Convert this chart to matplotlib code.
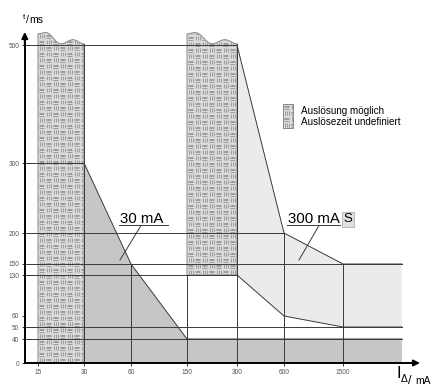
import numpy as np
import matplotlib
matplotlib.use("Agg")
import matplotlib.pyplot as plt
from matplotlib.patches import Polygon, Rectangle
from matplotlib.collections import LineCollection
from matplotlib.lines import Line2D
from matplotlib.transforms import IdentityTransform

plt.rcParams['font.family'] = ['Liberation Sans', 'DejaVu Sans']

# tick values on both axes
x_ticks = [15, 30, 60, 150, 300, 600, 1500]
y_ticks = [0, 40, 50, 60, 130, 150, 200, 300, 500]

# 30 mA RCD: maximum trip time
i_30 = [30, 60, 150, 3750]
t_30 = [300, 150, 40, 40]

# 300 mA selective RCD: max / min trip time
i_300 = [300, 600, 1500, 3750]
t_300_max = [500, 200, 150, 150]
t_300_min = [130, 60, 50, 50]

# zones where tripping is possible, time undefined: (I from, I to, t from)
zones = [(15, 30, 0), (150, 300, 130)]

# reference lines: time -> current where the line ends, current -> time
h_lines = {500: 300, 300: 30, 200: 600, 150: 3750, 130: 300, 50: 3750, 40: 3750}
v_lines = {60: 150, 600: 200, 1500: 150}

# axis layout (value -> pixel) of the non uniform axes in the drawing
X_V = [8.47, 15, 30, 60, 150, 300, 600, 1500, 5990]
X_P = [0, 38, 84, 131, 187, 237, 284, 343, 432]
Y_V = [-40, 0, 40, 50, 60, 130, 150, 200, 300, 500, 576]
Y_P = [0, 24, 48, 60, 71, 112, 123, 154, 224, 342, 387]
X0 = 12.3

W, H = 432, 387
fig = plt.figure(figsize=(W / 100, H / 100), dpi=100)
ax = fig.add_axes([0, 0, 1, 1])

lx = np.log10(X_V)
ax.set_xscale('function', functions=(
    lambda v: np.interp(np.log10(np.maximum(np.asarray(v, float), 1e-6)), lx, X_P),
    lambda p: 10 ** np.interp(p, X_P, lx)))
ax.set_yscale('function', functions=(
    lambda v: np.interp(v, Y_V, Y_P),
    lambda p: np.interp(p, Y_P, Y_V)))
ax.set_xlim(X_V[0], X_V[-1])
ax.set_ylim(Y_V[0], Y_V[-1])

LINE = '#3a3a3a'

# shaded regions
ax.add_patch(Polygon(list(zip(i_30, t_30)) + [(i_30[-1], 0), (i_30[0], 0)],
                     closed=True, facecolor='#c6c6c6', edgecolor='none', zorder=1))
ax.add_patch(Polygon(list(zip(i_300, t_300_max)) + list(zip(i_300[::-1], t_300_min[::-1])),
                     closed=True, facecolor='#ebebeb', edgecolor='none', zorder=1))

# reference lines
for t, i_end in h_lines.items():
    ax.plot([X0, i_end], [t, t], color=LINE, lw=0.7, zorder=5)
for i, t_top in v_lines.items():
    ax.plot([i, i], [0, t_top], color=LINE, lw=0.7, zorder=2)
ax.plot(i_30, t_30, color=LINE, lw=0.7, zorder=2)
ax.plot(i_300, t_300_max, color=LINE, lw=0.7, zorder=2)
ax.plot(i_300, t_300_min, color=LINE, lw=0.7, zorder=2)


def basket(clip, x0, y0, x1, y1, cw=7, ch=6):
    segs = []
    for j, yy in enumerate(np.arange(np.floor(y0), y1, ch)):
        for k, xx in enumerate(np.arange(np.floor(x0), x1, cw)):
            if (j + k) % 2 == 0:
                for o in (1.5, 3.5, 5.5):
                    segs.append([(xx + o, yy + 1), (xx + o, yy + ch - 1)])
            else:
                for o in (1.5, 3, 4.5):
                    segs.append([(xx + 1, yy + o), (xx + cw - 1, yy + o)])
    lc = LineCollection(segs, colors='#9c9c9c', linewidths=0.7,
                        transform=IdentityTransform(), zorder=4)
    ax.add_collection(lc, autolim=False)
    lc.set_clip_path(clip)


# wavy break at the top of the zones
WU = [0, 0.17, 0.5, 0.76, 1.0]
WT = [519, 521, 502, 509, 502]


def wave(u):
    k = np.clip(np.searchsorted(WU, u, side='right') - 1, 0, len(WU) - 2)
    s = (u - np.take(WU, k)) / (np.take(WU, k + 1) - np.take(WU, k))
    a, b = np.take(WT, k), np.take(WT, k + 1)
    return a + (b - a) * (1 - np.cos(np.pi * s)) / 2


for i0, i1, t0 in zones:
    u = np.linspace(0, 1, 60)
    xs = 10 ** (np.log10(i0) + u * (np.log10(i1) - np.log10(i0)))
    top = wave(u)
    verts = [(i0, t0), (i1, t0)] + list(zip(xs[::-1], top[::-1]))
    p = Polygon(verts, closed=True, facecolor='#dadada', edgecolor='#888888', lw=0.7, zorder=3)
    ax.add_patch(p)
    bb = ax.transData.transform(np.array(verts))
    basket(p, bb[:, 0].min(), bb[:, 1].min(), bb[:, 0].max(), bb[:, 1].max())
    ax.plot([i1, i1], [0, top[-1]], color=LINE, lw=0.7, zorder=5)
    ax.plot([i0, i0], [0, t0], color=LINE, lw=0.7, zorder=5)

# axes
for s in ('top', 'right'):
    ax.spines[s].set_visible(False)
ax.spines['left'].set_position(('data', X0))
ax.spines['bottom'].set_position(('data', 0))
ax.spines['left'].set_bounds(0, 512)
ax.spines['bottom'].set_bounds(X0, 4500)
for s in ('left', 'bottom'):
    ax.spines[s].set_linewidth(1.4)
    ax.spines[s].set_zorder(6)
ax.set_xticks(x_ticks, [str(v) for v in x_ticks])
ax.set_yticks(y_ticks, [str(v) for v in y_ticks])
ax.xaxis.set_minor_locator(matplotlib.ticker.NullLocator())
ax.yaxis.set_minor_locator(matplotlib.ticker.NullLocator())
ax.tick_params(length=2.5, width=0.7, labelsize=4.7, labelcolor='#555555',
               pad=1.5, direction='out', color=LINE)
ax.annotate('', xy=(X0, 522), xytext=(X0, 500),
            arrowprops=dict(arrowstyle='-|>', color='black', lw=1.4,
                            mutation_scale=9, shrinkA=0, shrinkB=0), zorder=7)
ax.annotate('', xy=(4970, 0), xytext=(4300, 0),
            arrowprops=dict(arrowstyle='-|>', color='black', lw=1.4,
                            mutation_scale=9, shrinkA=0, shrinkB=0), zorder=7)


def P(x, y):
    return x / W, 1 - y / H


def fline(pts, **kw):
    xs, ys = zip(*[P(*q) for q in pts])
    fig.add_artist(Line2D(xs, ys, color=LINE, lw=0.7, **kw))


# axis titles
fig.text(*P(23, 19), 't', fontsize=6)
fig.text(*P(25.5, 23), '/', fontsize=7.6)
fig.text(*P(29, 23), 'ms', fontsize=7.6)
fig.text(*P(396, 378), 'I', fontsize=12)
fig.text(*P(401, 382), 'Δ', fontsize=7.5)
fig.text(*P(408.5, 384), '/', fontsize=9)
fig.text(*P(415.5, 384), 'mA', fontsize=7.4)

# curve labels
fig.text(*P(120, 223), '30 mA', fontsize=10.8)
fline([(119, 225.5), (168, 225.5)])
fline([(141, 225.5), (120, 260)])
fig.text(*P(288, 223), '300 mA', fontsize=10.8)
fline([(287, 225.5), (340, 225.5)])
fline([(319, 225.5), (299, 260)])
fig.text(*P(343.5, 222.5), 'S', fontsize=9.5,
         bbox=dict(boxstyle='square,pad=0.12', facecolor='#e0e0e0', edgecolor='#b0b0b0', lw=0.6))

# legend
lr = Rectangle(P(283, 128), 10 / W, 24 / H, transform=fig.transFigure,
               facecolor='#dadada', edgecolor='#888888', lw=0.7, zorder=3)
ax.add_patch(lr)
basket(lr, 283, H - 128, 293, H - 104)
fig.text(*P(301, 114), 'Auslösung möglich', fontsize=7.1)
fig.text(*P(301, 125), 'Auslösezeit undefiniert', fontsize=7.1)

fig.savefig('out.png', dpi=100)
